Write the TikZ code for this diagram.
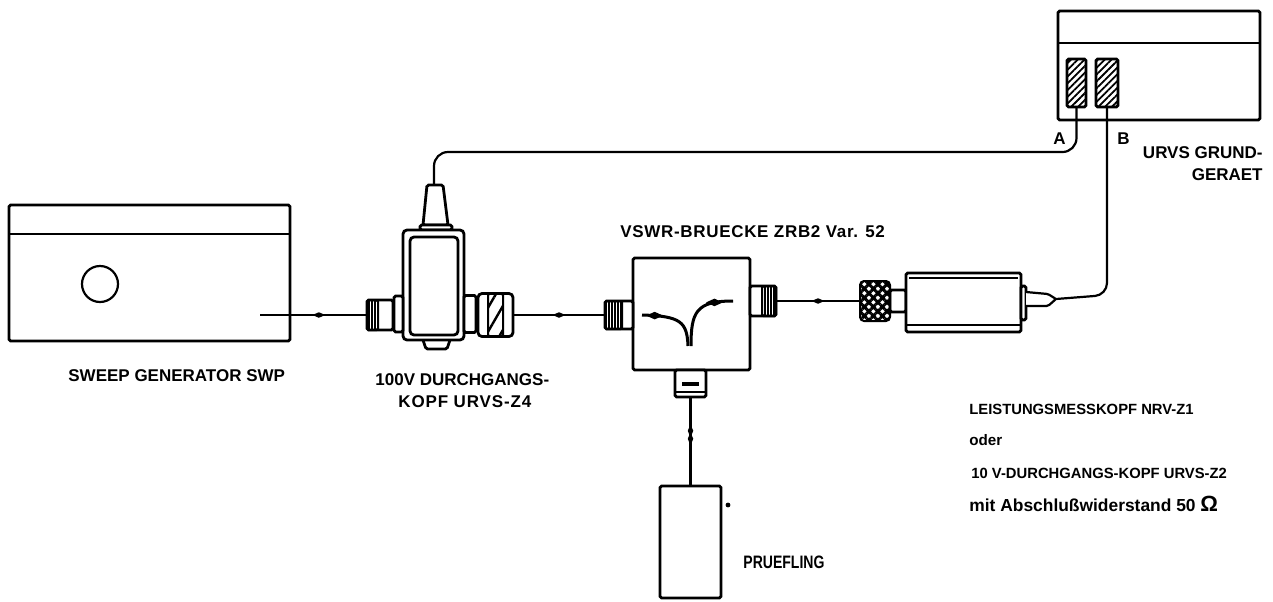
\documentclass[tikz,border=0pt]{standalone}
\usepackage{fontspec}
\setmainfont{Liberation Sans}
\usetikzlibrary{arrows.meta, positioning, calc, patterns.meta, shapes.geometric}
\tikzset{
  frame/.style={draw, line width=1.4pt, fill=white, rounded corners=0.8pt, inner sep=0pt, outer sep=0pt},
  knurl/.style={draw, line width=1pt, rounded corners=0.8pt, inner sep=0pt, outer sep=0pt,
    pattern={Lines[angle=90, distance=1.5pt, line width=0.6pt]}},
  socket/.style={frame, pattern={Lines[angle=45, distance=2.4pt, line width=0.9pt]}},
  wire/.style={draw, line width=1.1pt},
  blob/.style={diamond, fill, inner sep=0pt, minimum width=7pt, minimum height=3.2pt},
  lab/.style={font=\fontsize{8.5}{9}\selectfont\bfseries\addfontfeatures{LetterSpace=#1}, anchor=base west, inner sep=0pt},
  lab/.default=0,
  note/.style={font=\fontsize{#1}{8}\selectfont\bfseries, anchor=base west, inner sep=0pt},
  note/.default=7.4,
}
\begin{document}
\begin{tikzpicture}[x=0.5pt, y=-0.5pt]
    \useasboundingbox (0,0) rectangle (1273,601);
    % generator
    \node[frame, minimum width=140.5pt, minimum height=68pt] (swp) at (149.5,273) {};
    \draw[line width=1.4pt] ($(swp.north west)+(0,29)$) -- ($(swp.north east)+(0,29)$);
    \node[frame, circle, minimum size=18pt, line width=1.1pt] (knob) at (100,284) {};
    \coordinate (swpout) at (260,315);
    % 100 V head
    \draw[frame] (423,340) -- (426,349) -- (447,349) -- (450,340);
    \draw[frame] (423,225) -- (427,185) -- (443,185) -- (448,225) -- cycle;
    \coordinate (headtip) at (434,185);
    \coordinate (headbend) at (434,152);
    \node[frame, minimum width=16pt, minimum height=2.5pt] (collar) at (436,227.5) {};
    \node[frame, minimum width=30.5pt, minimum height=55pt, rounded corners=2pt] (head) at (433.5,285) {};
    \node[frame, minimum width=24pt, minimum height=49pt, rounded corners=2pt] (window) at (434,286) {};
    \node[frame, minimum width=4.5pt, minimum height=18pt] (flangeL) at (398.5,314) {};
    \node[frame, minimum width=6pt, minimum height=18.5pt] (flangeR) at (470,314) {};
    \node[frame, minimum width=13pt, minimum height=15pt] (plugL) at (380,315) {};
    \node[knurl, minimum width=5.5pt, minimum height=15pt] (knurlL) at (372.5,315) {};
    \node[frame, minimum width=17.5pt, minimum height=21.5pt, rounded corners=2pt] (plugR) at (495.5,315) {};
    \node[knurl, minimum width=7.5pt, minimum height=21.5pt,
      pattern={Lines[angle=60, distance=6pt, line width=1.2pt]}] (knurlR) at (495.5,315) {};
    % bridge
    \node[frame, minimum width=58.5pt, minimum height=56pt] (bridge) at (691.5,314) {};
    \node[frame, minimum width=14pt, minimum height=14pt] (portL) at (619,315) {};
    \node[knurl, minimum width=8.5pt, minimum height=14pt] (knurlA) at (613.5,315) {};
    \node[frame, minimum width=13pt, minimum height=15pt] (portR) at (763,301) {};
    \node[knurl, minimum width=7pt, minimum height=15pt] (knurlB) at (769,301) {};
    \node[frame, minimum width=15.5pt, minimum height=13.5pt] (portD) at (690.5,383.5) {};
    \draw[line width=0.9pt] ($(portD.south west)+(0,-5)$) -- ($(portD.south east)+(0,-5)$);
    \draw[line width=1.6pt] ($(portD.south west)+(7,-13)$) -- ($(portD.south east)+(-7,-13)$);
    \coordinate (teeL) at (688,346);
    \coordinate (teeR) at (691,346);
    \draw[wire, line width=1.5pt] (teeL) .. controls (687,322) and (681,316) .. (642,315)
      node[blob, pos=0.88, minimum width=9pt, minimum height=4.4pt] (arrL) {};
    \draw[wire, line width=1.5pt] (teeR) .. controls (691,312) and (696,301) .. (733,301)
      node[blob, pos=0.8, minimum width=9pt, minimum height=4.4pt] (arrR) {};
    % DUT
    \node[frame, minimum width=30.5pt, minimum height=56pt] (dut) at (690.5,542) {};
    \fill (728,505) circle (1.2pt);
    % power sensor
    \node[frame, minimum width=8pt, minimum height=11pt] (neck) at (898,301) {};
    \node[knurl, minimum width=15pt, minimum height=20pt, rounded corners=2pt,
      pattern={Hatch[angle=45, distance=3.2pt, line width=1.5pt]}] (sensorK) at (875,301) {};
    \node[frame, minimum width=57.5pt, minimum height=29.5pt] (sensor) at (963.5,302.5) {};
    \draw[line width=0.6pt] ($(sensor.north west)+(3,5)$) -- ($(sensor.north east)+(-3,5)$);
    \draw[line width=0.6pt] ($(sensor.south west)+(0,-7)$) -- ($(sensor.south east)+(0,-7)$);
    \node[frame, minimum width=2.5pt, minimum height=17pt] (sensorF) at (1023.5,303) {};
    \draw[frame, line width=1.1pt] (1026,292) -- (1048,294) -- (1056,299) -- (1048,306) -- (1026,306);
    \coordinate (sensortip) at (1056,299);
    % URV5
    \node[frame, minimum width=101pt, minimum height=54.5pt] (urv) at (1159,65.5) {};
    \draw[line width=1.4pt] ($(urv.north west)+(0,32)$) -- ($(urv.north east)+(0,32)$);
    \node[socket, minimum width=9.5pt, minimum height=24pt] (sockA) at (1076.5,83) {};
    \node[socket, minimum width=11pt, minimum height=24pt] (sockB) at (1107,83) {};
    % cables
    \draw[wire] (swpout) -- node[blob, pos=0.55] (m1) {} (knurlL.west);
    \draw[wire] (plugR.east) -- node[blob, pos=0.5] (m2) {} (knurlA.west);
    \draw[wire] (knurlB.east) -- node[blob, pos=0.5] (m3) {} (sensorK.west);
    \draw[wire] (portD.south) -- node[blob, pos=0.38, rotate=90] (m4) {}
      node[blob, pos=0.47, rotate=90] (m5) {} (dut.north);
    \draw[wire, rounded corners=7pt] (sockA.south) |- (headbend) -- (headtip);
    \draw[wire, rounded corners=6pt] (sockB.south) -- (1107,295) -- (sensortip);
    % labels
    \node[lab] (lblswp) at (68,381) {SWEEP GENERATOR SWP};
    \node[lab] (lblhead) at (375,385) {100V DURCHGANGS-};
    \node[lab=5] (lblhead2) at (398,407) {KOPF URVS-Z4};
    \node[lab=4] (lblbridge) at (620,237) {VSWR-BRUECKE ZRB2 Var. 52};
    \node[lab, font=\fontsize{9}{9}\selectfont\bfseries\addfontfeatures{FakeStretch=0.78}] (lbldut) at (743,568) {PRUEFLING};
    \node[lab] (lblA) at (1053,144) {A};
    \node[lab] (lblB) at (1117,144) {B};
    \node[lab, anchor=base east] (lblurv) at (1263,158) {URVS GRUND-};
    \node[lab, anchor=base east] (lblurv2) at (1263,180) {GERAET};
    \node[note] (n1) at (969,414) {LEISTUNGSMESSKOPF NRV-Z1};
    \node[note=7.6] (n2) at (969,445) {oder};
    \node[note] (n3) at (971,478) {10 V-DURCHGANGS-KOPF URVS-Z2};
    \node[note=8.7] (n4) at (969,511) {mit Abschlußwiderstand 50 {\fontsize{11}{11}\selectfont Ω}};
  \end{tikzpicture}
\end{document}
